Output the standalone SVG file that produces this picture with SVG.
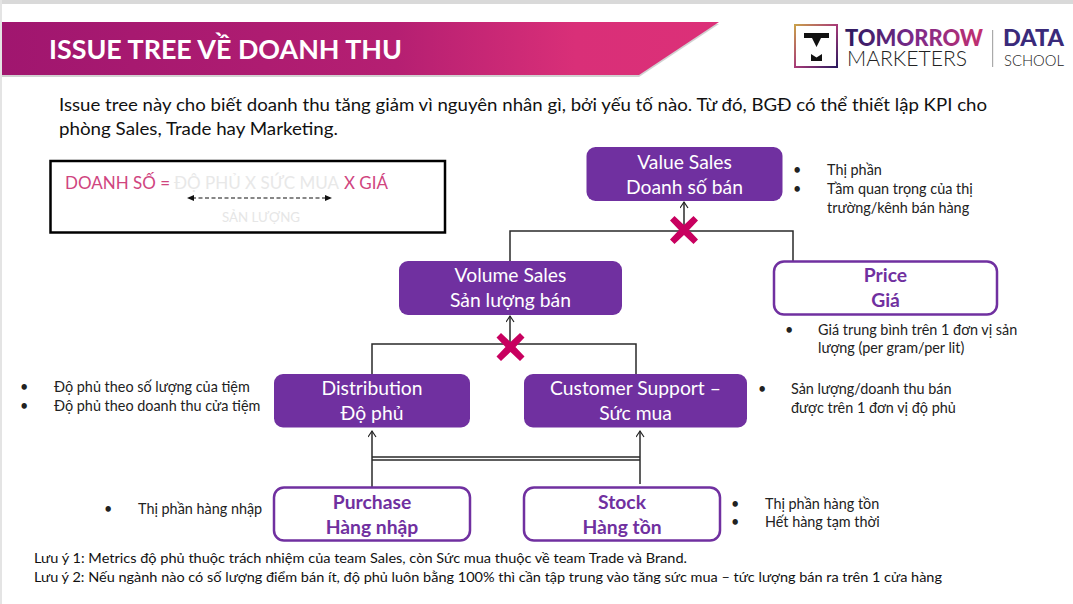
<svg xmlns="http://www.w3.org/2000/svg" width="1073" height="604" viewBox="0 0 1073 604">
<style>
text{font-family:Lato,"Noto Sans",sans-serif;}
.n{font-size:19.300px;text-anchor:middle;fill:#fff}
.o{font-size:19.300px;text-anchor:middle;fill:#7030a0;font-weight:700}
.fill{fill:#7030a0}
.out{fill:#fff;stroke:#7030a0;stroke-width:2.500}
.b{font-size:14.400px;fill:#222}
.body{font-size:18px;fill:#111}
.note{font-size:13.400px;fill:#111}
.f{font-size:17.500px}
.c{fill:none;stroke:#2a2a2a;stroke-width:1.500}
.x{fill:#c8005f}
</style>
<defs>
<linearGradient id="g" x1="0" x2="1" y1="0" y2="0"><stop offset="0" stop-color="#a0166f"/><stop offset="0.55" stop-color="#b51f72"/><stop offset="0.8" stop-color="#d92f78"/><stop offset="1" stop-color="#dc3078"/></linearGradient>
<linearGradient id="lg" x1="0" x2="1" y1="0" y2="0"><stop offset="0" stop-color="#2b1a5e"/><stop offset="0.5" stop-color="#7a2a8a"/><stop offset="1" stop-color="#c4306f"/></linearGradient>
<linearGradient id="sq" x1="0" x2="1" y1="0" y2="1"><stop offset="0" stop-color="#c9a04a"/><stop offset="0.5" stop-color="#a83a78"/><stop offset="1" stop-color="#2b1a5e"/></linearGradient>
<marker id="a" markerWidth="10" markerHeight="10" refX="7" refY="4" orient="auto" markerUnits="userSpaceOnUse"><path d="M1 0L7 4L1 8" fill="none" stroke="#222" stroke-width="1.200"/></marker>
<path id="xm" d="M-9.500-14L0-5L9.500-14L14-9.500L5 0L14 9.500L9.500 14L0 5L-9.500 14L-14 9.500L-5 0L-14-9.500Z"/>
</defs>
<rect width="1073" height="604" fill="#fff"/>
<rect width="1073" height="4" fill="#d9d9d9"/>
<rect width="2" height="604" fill="#e4e4e4"/>

<g id="banner">
<path d="M2 22H719L639 75H2Z" fill="#999" opacity=".45" transform="translate(0 2)"/>
<path d="M2 22H719L639 75H2Z" fill="url(#g)"/>
<text x="49" y="59" font-size="27.500" font-weight="700" fill="#fff" textLength="353" lengthAdjust="spacingAndGlyphs">ISSUE TREE VỀ DOANH THU</text>
</g>

<g id="logo">
<rect x="795" y="25" width="42" height="42" fill="none" stroke="url(#sq)" stroke-width="2"/>
<path d="M804 33H829V38H821L816.500 47L812 38H804Z" fill="#111"/>
<path d="M811 61V54L816.500 57.500L822 54V61Z" fill="#111"/>
<text x="845" y="46" font-size="22" font-weight="900" fill="url(#lg)" textLength="138" lengthAdjust="spacingAndGlyphs">TOMORROW</text>
<text x="847" y="66" font-size="22" font-weight="300" fill="#222" textLength="120" lengthAdjust="spacingAndGlyphs">MARKETERS</text>
<rect x="992" y="30" width="1.200" height="37" fill="#aaa"/>
<text x="1003" y="46" font-size="22" font-weight="900" fill="#3a2a7a" textLength="61" lengthAdjust="spacingAndGlyphs">DATA</text>
<text x="1004" y="66" font-size="15" font-weight="300" fill="#222" textLength="60" lengthAdjust="spacingAndGlyphs">SCHOOL</text>
</g>

<g id="intro">
<text class="body" x="59" y="111" textLength="928" lengthAdjust="spacingAndGlyphs">Issue tree này cho biết doanh thu tăng giảm vì nguyên nhân gì, bởi yếu tố nào. Từ đó, BGĐ có thể thiết lập KPI cho</text>
<text class="body" x="59" y="135" textLength="279" lengthAdjust="spacingAndGlyphs">phòng Sales, Trade hay Marketing.</text>
</g>

<g id="formula">
<rect x="50.500" y="161" width="394.500" height="71.500" fill="#fff" stroke="#000" stroke-width="2.500"/>
<text class="f" x="65" y="189" fill="#d0457f" textLength="105" lengthAdjust="spacingAndGlyphs">DOANH SỐ =</text>
<text class="f" x="174" y="189" fill="#e8e8e8" textLength="165" lengthAdjust="spacingAndGlyphs">ĐỘ PHỦ X SỨC MUA</text>
<text class="f" x="344" y="189" fill="#d0457f" textLength="44" lengthAdjust="spacingAndGlyphs">X GIÁ</text>
<path d="M192 198H326" fill="none" stroke="#111" stroke-width="1.100" stroke-dasharray="4 2.500"/>
<path d="M187 198L194 195V201Z" fill="#111"/>
<path d="M332 198L325 195V201Z" fill="#111"/>
<text x="222" y="222" font-size="14" fill="#e6e6e6" textLength="78" lengthAdjust="spacingAndGlyphs">SẢN LƯỢNG</text>
</g>

<g id="connectors">
<path class="c" d="M684 231V202" marker-end="url(#a)"/>
<path class="c" d="M510 261V231H793V261"/>
<path class="c" d="M510 344V316" marker-end="url(#a)"/>
<path class="c" d="M372 374V344H636V374"/>
<path class="c" d="M372 487V431" marker-end="url(#a)"/>
<path class="c" d="M640 484V431" marker-end="url(#a)"/>
<path class="c" d="M372 457H640M372 460H640"/>
<use class="x" href="#xm" x="684" y="230"/>
<use class="x" href="#xm" x="510.500" y="347"/>
</g>

<g id="value-sales">
<rect class="fill" x="586.500" y="147" width="196" height="54" rx="9"/>
<text class="n" x="684.500" y="169">Value Sales</text>
<text class="n" x="684.500" y="194">Doanh số bán</text>
</g>
<g id="volume-sales">
<rect class="fill" x="399" y="261" width="223" height="54" rx="9"/>
<text class="n" x="510.500" y="282">Volume Sales</text>
<text class="n" x="510.500" y="307">Sản lượng bán</text>
</g>
<g id="price">
<rect class="out" x="774" y="261.500" width="223" height="53" rx="10"/>
<text class="o" x="885.500" y="282">Price</text>
<text class="o" x="885.500" y="307">Giá</text>
</g>
<g id="distribution">
<rect class="fill" x="274" y="374" width="196" height="53.500" rx="9"/>
<text class="n" x="372" y="395">Distribution</text>
<text class="n" x="372" y="420">Độ phủ</text>
</g>
<g id="customer-support">
<rect class="fill" x="524" y="374" width="223" height="53.500" rx="9"/>
<text class="n" x="635.500" y="395">Customer Support –</text>
<text class="n" x="635.500" y="420">Sức mua</text>
</g>
<g id="purchase">
<rect class="out" x="274" y="487.500" width="196" height="53" rx="10"/>
<text class="o" x="372" y="509">Purchase</text>
<text class="o" x="372" y="534">Hàng nhập</text>
</g>
<g id="stock">
<rect class="out" x="524" y="487.500" width="196" height="53" rx="10"/>
<text class="o" x="622" y="509">Stock</text>
<text class="o" x="622" y="534">Hàng tồn</text>
</g>

<g id="notes-value">
<text class="b" x="793" y="175">•</text><text class="b" x="827" y="175">Thị phần</text>
<text class="b" x="793" y="194">•</text><text class="b" x="827" y="194">Tầm quan trọng của thị</text>
<text class="b" x="827" y="213">trường/kênh bán hàng</text>
</g>
<g id="notes-price">
<text class="b" x="785" y="335">•</text><text class="b" x="818" y="335">Giá trung bình trên 1 đơn vị sản</text>
<text class="b" x="818" y="353">lượng (per gram/per lit)</text>
</g>
<g id="notes-distribution">
<text class="b" x="20" y="392">•</text><text class="b" x="54" y="392">Độ phủ theo số lượng của tiệm</text>
<text class="b" x="20" y="411">•</text><text class="b" x="54" y="411">Độ phủ theo doanh thu cửa tiệm</text>
</g>
<g id="notes-customer">
<text class="b" x="758" y="394">•</text><text class="b" x="791" y="394">Sản lượng/doanh thu bán</text>
<text class="b" x="791" y="413">được trên 1 đơn vị độ phủ</text>
</g>
<g id="notes-purchase">
<text class="b" x="104" y="514">•</text><text class="b" x="138" y="514">Thị phần hàng nhập</text>
</g>
<g id="notes-stock">
<text class="b" x="731" y="509">•</text><text class="b" x="765" y="509">Thị phần hàng tồn</text>
<text class="b" x="731" y="527">•</text><text class="b" x="765" y="527">Hết hàng tạm thời</text>
</g>
<g id="footnotes">
<text class="note" x="34" y="563" textLength="653" lengthAdjust="spacingAndGlyphs">Lưu ý 1: Metrics độ phủ thuộc trách nhiệm của team Sales, còn Sức mua thuộc về team Trade và Brand.</text>
<text class="note" x="34" y="582" textLength="908" lengthAdjust="spacingAndGlyphs">Lưu ý 2: Nếu ngành nào có số lượng điểm bán ít, độ phủ luôn bằng 100% thì cần tập trung vào tăng sức mua – tức lượng bán ra trên 1 cửa hàng</text>
</g>
</svg>
